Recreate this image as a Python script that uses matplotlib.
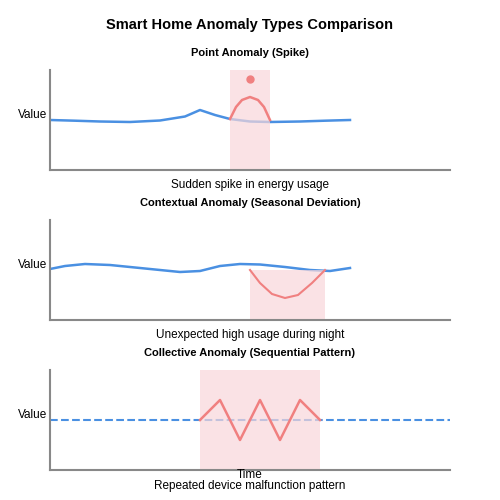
import matplotlib
matplotlib.use('Agg')
from matplotlib import pyplot as plt

plt.rcParams['font.family'] = ['Liberation Sans', 'DejaVu Sans']

BLUE = '#4a90e2'
RED = '#f08080'
SHADE = '#f8d7da'
GRAY = '#888888'

# panel 1: point anomaly (x in time units 0..400, y = value offset, 0 top .. 100 bottom)
p1_x = [0, 25, 50, 80, 110, 135, 150, 165, 180, 200, 220, 250, 275, 300]
p1_y = [50, 50.7, 51.5, 52, 50.5, 46.5, 40, 45, 49, 51.5, 52, 51.5, 50.7, 50]
p1_arc_x = [180, 186, 192, 200, 208, 214, 220]
p1_arc_y = [49, 37, 30, 27, 30, 37, 50]
p1_dot = (200, 9)
p1_span = (180, 220)

# panel 2: contextual anomaly
p2_x = [0, 15, 35, 60, 85, 110, 130, 150, 170, 190, 210, 235, 260, 280, 300]
p2_y = [49, 46, 44, 45, 47.5, 50, 52, 51, 46, 44, 44.5, 47, 50, 51, 48]
p2_red_x = [200, 210, 222, 235, 248, 262, 275]
p2_red_y = [50, 63, 74, 78, 75, 63, 50]
p2_span = (200, 275, 50, 100)

# panel 3: collective anomaly
p3_base_x = [0, 400]
p3_base_y = [50, 50]
p3_zig_x = [150, 170, 190, 210, 230, 250, 270]
p3_zig_y = [50, 30, 70, 30, 70, 30, 50]
p3_span = (150, 270)

fig = plt.figure(figsize=(5, 5), dpi=100)
fig.text(0.5, 0.951, 'Smart Home Anomaly Types Comparison', ha='center', va='center',
         fontsize=10.5, fontweight='bold')

panels = [(70, 'Point Anomaly (Spike)', 'Sudden spike in energy usage'),
          (220, 'Contextual Anomaly (Seasonal Deviation)', 'Unexpected high usage during night'),
          (370, 'Collective Anomaly (Sequential Pattern)', 'Repeated device malfunction pattern')]
axes = []
for top, title, caption in panels:
    ax = fig.add_axes([50 / 500, 1 - (top + 100) / 500, 400 / 500, 100 / 500])
    ax.set_xlim(0, 400)
    ax.set_ylim(100, 0)
    ax.set_xticks([])
    ax.set_yticks([])
    for s in ['top', 'right']:
        ax.spines[s].set_visible(False)
    for s in ['left', 'bottom']:
        ax.spines[s].set_color(GRAY)
        ax.spines[s].set_linewidth(1.5)
    fig.text(0.5, 1 - (top - 17) / 500, title, ha='center', va='center', fontsize=8, fontweight='bold')
    fig.text(0.036, 1 - (top + 45) / 500, 'Value', ha='left', va='center', fontsize=8.5)
    axes.append((ax, top, caption))

ax1, ax2, ax3 = axes[0][0], axes[1][0], axes[2][0]
ax1.plot(p1_x, p1_y, color=BLUE, lw=1.8, zorder=1)
ax1.axvspan(*p1_span, color=SHADE, alpha=0.7, zorder=2, lw=0)
ax1.plot(p1_arc_x, p1_arc_y, color=RED, lw=1.8, zorder=3)
ax1.plot(*p1_dot, 'o', color=RED, ms=5, zorder=3)

ax2.plot(p2_x, p2_y, color=BLUE, lw=1.8, zorder=1)
ax2.fill_between([p2_span[0], p2_span[1]], p2_span[2], p2_span[3], color=SHADE, alpha=0.7, lw=0, zorder=2)
ax2.plot(p2_red_x, p2_red_y, color=RED, lw=1.5, zorder=3)

ax3.plot(p3_base_x, p3_base_y, color=BLUE, lw=1.5, ls='--', zorder=1)
ax3.axvspan(*p3_span, color=SHADE, alpha=0.7, zorder=2, lw=0)
ax3.plot(p3_zig_x, p3_zig_y, color=RED, lw=1.8, zorder=3)

fig.text(0.5, 1 - 185 / 500, 'Sudden spike in energy usage', ha='center', va='center', fontsize=8.5)
fig.text(0.5, 1 - 335 / 500, 'Unexpected high usage during night', ha='center', va='center', fontsize=8.5)
fig.text(0.5, 1 - 475 / 500, 'Time', ha='center', va='center', fontsize=8.5)
fig.text(0.5, 1 - 486 / 500, 'Repeated device malfunction pattern', ha='center', va='center', fontsize=8.5)

fig.savefig('out.png', dpi=100)
